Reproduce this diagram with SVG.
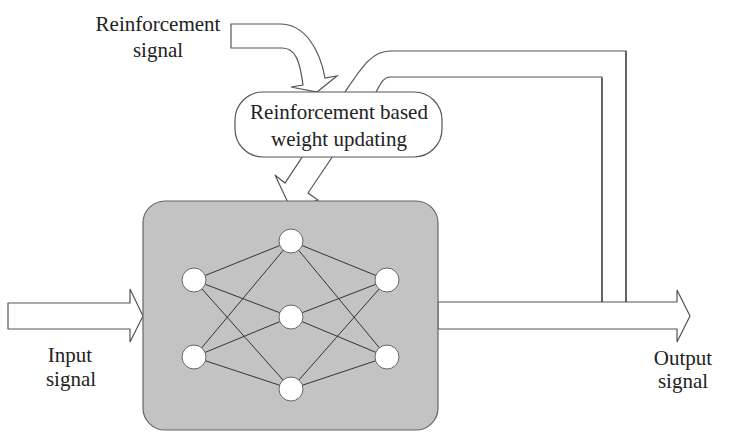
<svg xmlns="http://www.w3.org/2000/svg" width="747" height="441" viewBox="0 0 747 441">
<style>
.t{font-family:"Liberation Serif",serif;font-size:21px;fill:#222;text-anchor:middle}
.arr{fill:#fff;stroke:#555;stroke-width:1.2}
.edge{stroke:#333;stroke-width:1}
.nd{fill:#fff;stroke:#666;stroke-width:1}
</style>
<rect width="747" height="441" fill="#fff"/>
<g id="connectors">
<path id="feedback" class="arr" d="M626,302 V51 H390 C372,51 362,67 345,92 L285,183 L275,175 L291,209 L318,200 L308,193 L376,92 C380,85 383,77 390,77 H602 V302"/>
<path id="reinforcement-arrow" class="arr" d="M231,24 H280 C305,24 320,50 325,78 L337,76 L317,92 L291,87 L303,85 C300,62 296,48 282,48 H231 Z"/>
<polygon id="input-arrow" class="arr" points="8,303 130,303 130,289 143,316 130,342 130,329 8,329"/>
<polygon id="output-arrow" class="arr" points="438,302 677,302 677,290 690,316 677,342 677,329 438,329"/>
<line class="edge" x1="602" y1="302" x2="602" y2="78" stroke="#222"/>
<line class="edge" x1="626" y1="302" x2="626" y2="51" stroke="#222"/>
</g>
<g id="updating">
<rect x="235" y="92" width="207" height="65" rx="28" ry="28" fill="#fff" stroke="#555" stroke-width="1.2"/>
<text class="t" x="339" y="119">Reinforcement based</text>
<text class="t" x="339" y="146">weight updating</text>
</g>
<g id="network">
<rect x="143" y="201" width="295" height="229" rx="22" ry="22" fill="#c3c3c3" stroke="#666" stroke-width="1.2"/>
<g class="edge">
<line x1="194" y1="280" x2="291" y2="241"/>
<line x1="194" y1="280" x2="291" y2="317"/>
<line x1="194" y1="280" x2="291" y2="389"/>
<line x1="194" y1="357" x2="291" y2="241"/>
<line x1="194" y1="357" x2="291" y2="317"/>
<line x1="194" y1="357" x2="291" y2="389"/>
<line x1="291" y1="241" x2="387" y2="280"/>
<line x1="291" y1="241" x2="387" y2="357"/>
<line x1="291" y1="317" x2="387" y2="280"/>
<line x1="291" y1="317" x2="387" y2="357"/>
<line x1="291" y1="389" x2="387" y2="280"/>
<line x1="291" y1="389" x2="387" y2="357"/>
</g>
<circle class="nd" cx="194" cy="280" r="12"/>
<circle class="nd" cx="194" cy="357" r="12"/>
<circle class="nd" cx="291" cy="241" r="12"/>
<circle class="nd" cx="291" cy="317" r="12"/>
<circle class="nd" cx="291" cy="389" r="12"/>
<circle class="nd" cx="387" cy="280" r="12"/>
<circle class="nd" cx="387" cy="357" r="12"/>
</g>
<g id="labels">
<text class="t" x="158" y="31">Reinforcement</text>
<text class="t" x="158" y="57">signal</text>
<text class="t" x="70" y="362">Input</text>
<text class="t" x="71" y="386">signal</text>
<text class="t" x="683" y="365">Output</text>
<text class="t" x="683" y="388">signal</text>
</g>
</svg>
